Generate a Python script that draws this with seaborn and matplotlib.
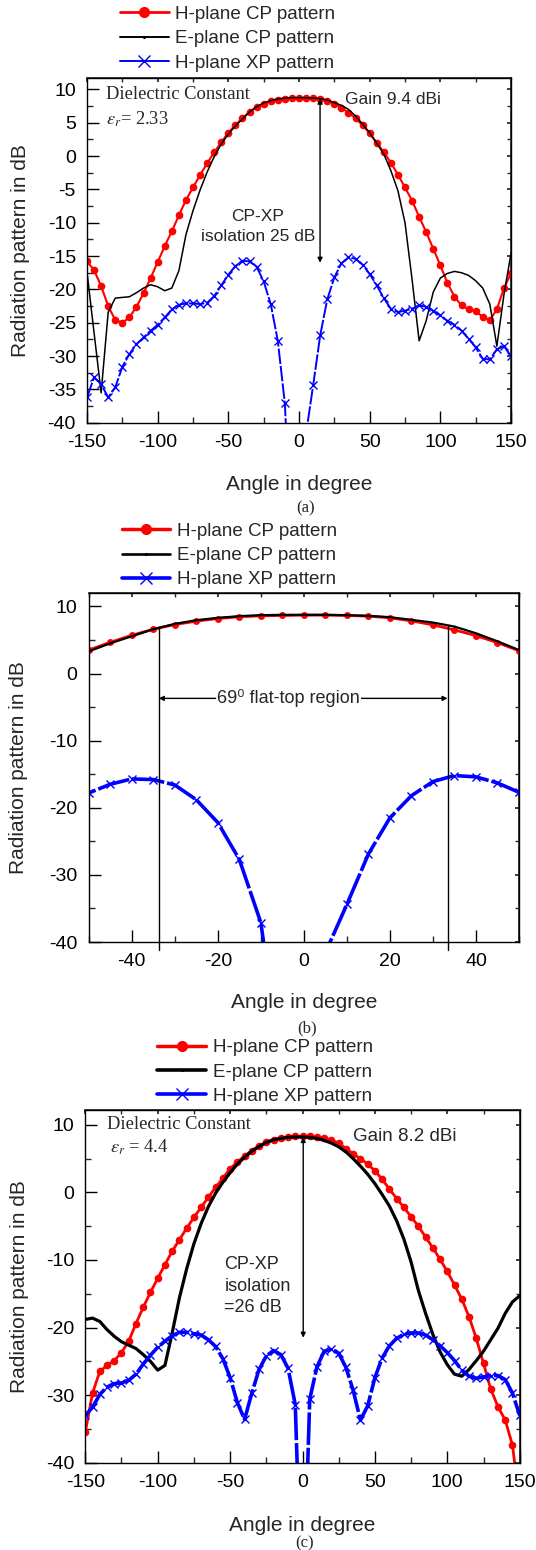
import matplotlib
matplotlib.use("Agg")
import matplotlib.pyplot as plt
import seaborn as sns
import pandas as pd
from matplotlib.ticker import MultipleLocator
from matplotlib.lines import Line2D

# ---------------- data ----------------
ANGLE = list(range(-150, 155, 5))

H_CP_A = [-15.8, -17.1, -19.5, -22.5, -24.6, -25.0, -24.2, -22.6, -20.6, -18.3,
          -15.9, -13.5, -11.3, -8.9, -6.6, -4.7, -2.85, -1.1, 0.56, 2.06,
          3.5, 4.65, 5.7, 6.6, 7.3, 7.8, 8.2, 8.45, 8.6, 8.65,
          8.7,
          8.7, 8.65, 8.55, 8.3, 7.85, 7.25, 6.5, 5.65, 4.6, 3.4,
          2.0, 0.56, -1.0, -2.8, -4.7, -6.7, -9.1, -11.4, -13.9, -16.4,
          -19.0, -21.1, -22.4, -23.0, -23.3, -24.1, -24.6, -23.0, -19.8, -17.6]

E_CP_A = [-17.4, -26.5, -35.5, -23.4, -21.3, -21.2, -21.1, -20.5, -19.8, -19.3,
          -19.6, -20.2, -19.8, -17.2, -11.8, -8.2, -5.1, -2.4, -0.1, 1.8,
          3.3, 4.5, 5.55, 6.6, 7.4, 7.95, 8.3, 8.55, 8.7, 8.75,
          8.75,
          8.75, 8.7, 8.6, 8.4, 8.0, 7.6, 7.0, 6.0, 4.8, 3.5,
          1.9, 0.3, -2.2, -5.2, -10.0, -18.5, -27.7, -24.7, -20.4, -18.3,
          -17.6, -17.3, -17.5, -17.9, -18.7, -19.8, -22.2, -28.5, -20.8, -14.6]

H_XP_A = [-36.2, -33.2, -34.2, -36.2, -34.7, -31.6, -29.7, -28.2, -27.2, -26.2,
          -25.3, -24.2, -23.0, -22.3, -22.1, -22.1, -22.2, -22.0, -21.0, -19.4,
          -17.8, -16.5, -15.7, -15.8, -16.6, -18.8, -22.2, -27.7, -37.1, -60.0,
          -60.0,
          -41.6, -34.4, -26.9, -21.5, -18.2, -16.1, -15.2, -15.4, -16.3, -17.7,
          -19.4, -21.3, -22.9, -23.4, -23.2, -22.9, -22.4, -22.6, -23.2, -23.9,
          -24.7, -25.3, -26.2, -27.4, -28.7, -30.4, -30.5, -29.0, -28.5, -30.0]

H_CP_C = [-35.5, -29.7, -26.5, -25.6, -24.9, -23.7, -22.0, -19.4, -17.0, -14.8,
          -12.7, -10.7, -8.7, -7.0, -5.3, -3.7, -2.2, -0.7, 0.74, 2.1,
          3.5, 4.5, 5.4, 6.2, 6.9, 7.4, 7.8, 8.05, 8.2, 8.3,
          8.3,
          8.3, 8.2, 8.05, 7.75, 7.3, 6.5, 5.7, 5.0, 4.2, 3.2,
          1.95, 0.5, -0.9, -2.2, -3.6, -5.0, -6.6, -8.2, -9.9, -11.7,
          -13.7, -15.8, -18.4, -21.6, -25.3, -29.1, -31.7, -33.7, -37.4, -46.0]

E_CP_C = [-18.8, -18.6, -19.1, -20.3, -21.3, -22.1, -22.6, -23.1, -24.0, -25.0,
          -26.3, -25.6, -20.8, -15.6, -11.3, -7.6, -4.6, -2.1, -0.1, 1.5,
          2.9, 4.2, 5.2, 6.1, 6.8, 7.4, 7.8, 8.0, 8.15, 8.2,
          8.2,
          8.15, 8.0, 7.7, 7.3, 6.75, 6.0, 5.0, 3.9, 2.7, 1.3,
          -0.3, -2.0, -4.2, -6.9, -10.3, -14.5, -17.9, -21.0, -23.6, -25.5,
          -26.9, -27.2, -26.2, -24.9, -23.5, -21.8, -20.1, -17.9, -16.2, -15.3]

H_XP_C = [-33.0, -31.8, -29.9, -28.8, -28.3, -28.2, -27.8, -26.9, -25.4, -24.1,
          -22.9, -22.0, -21.2, -20.7, -20.7, -20.9, -21.1, -21.8, -22.8, -24.6,
          -27.4, -31.1, -33.6, -29.7, -26.2, -24.2, -23.4, -24.0, -26.0, -31.4,
          -65.0,
          -30.6, -25.8, -23.5, -23.2, -23.8, -25.9, -29.3, -33.7, -31.6, -27.4,
          -24.5, -22.7, -21.6, -21.0, -20.8, -20.8, -21.1, -21.8, -22.7, -23.7,
          -24.9, -26.3, -27.2, -27.5, -27.3, -27.1, -27.1, -27.7, -29.7, -33.0]

LABELS = ["H-plane CP pattern", "E-plane CP pattern", "H-plane XP pattern"]
X_LABEL = "Angle in degree"
Y_LABEL = "Radiation pattern in dB"

# ---------------- style ----------------
sns.set_theme(style="ticks")
plt.rcParams["font.family"] = ["Liberation Sans", "DejaVu Sans"]
plt.rcParams["mathtext.fontset"] = "stix"
plt.rcParams["axes.unicode_minus"] = False

RED, BLUE, BLACK = "#ff0000", "#0000ff", "#000000"
SERIF = ["Liberation Serif", "DejaVu Serif"]

fig = plt.figure(figsize=(5.36, 15.5), dpi=100)
W, H = 536.0, 1550.0


def axes_px(left, top, right, bottom):
    return fig.add_axes([left / W, 1 - bottom / H, (right - left) / W, (bottom - top) / H])


def draw(ax, df, red_lw, blk_lw, blu_lw, blu_dash, ms):
    sns.lineplot(data=df, x="angle", y="h_cp", ax=ax, color=RED, lw=red_lw,
                 marker="o", markersize=ms, markeredgecolor=RED, markeredgewidth=0,
                 estimator=None, legend=False)
    sns.lineplot(data=df, x="angle", y="e_cp", ax=ax, color=BLACK, lw=blk_lw,
                 estimator=None, legend=False)
    sns.lineplot(data=df, x="angle", y="h_xp", ax=ax, color=BLUE, lw=blu_lw,
                 linestyle=blu_dash, marker="x", markersize=ms + 0.3,
                 markeredgecolor=BLUE, markeredgewidth=1.0,
                 estimator=None, legend=False)


def style_axes(ax, xlim, ylim, xmaj, xmin, ymaj, ymin):
    ax.set_xlim(*xlim)
    ax.set_ylim(*ylim)
    ax.xaxis.set_major_locator(MultipleLocator(xmaj))
    ax.xaxis.set_minor_locator(MultipleLocator(xmin))
    ax.yaxis.set_major_locator(MultipleLocator(ymaj))
    ax.yaxis.set_minor_locator(MultipleLocator(ymin))
    ax.tick_params(which="major", direction="in", length=8.5, width=1.0,
                   labelsize=14, pad=8, colors="black")
    ax.tick_params(which="minor", direction="in", length=4.5, width=1.0)
    for s in ax.spines.values():
        s.set_color("black")
        s.set_linewidth(1.0)
    ax.set_facecolor("white")
    sx = ax.secondary_xaxis("top")
    sx.xaxis.set_major_locator(MultipleLocator(xmaj))
    sx.xaxis.set_minor_locator(MultipleLocator(xmin))
    sx.tick_params(which="both", direction="in", length=3, labeltop=False)
    sy = ax.secondary_yaxis("right")
    sy.yaxis.set_major_locator(MultipleLocator(ymaj))
    sy.yaxis.set_minor_locator(MultipleLocator(ymin))
    sy.tick_params(which="both", direction="in", length=3, labelright=False)
    ax.set_xlabel(X_LABEL, fontsize=15)
    ax.set_ylabel(Y_LABEL, fontsize=15)


def legend(x_px, ymid_px, red_lw, blk_lw, blu_lw):
    handles = [
        Line2D([], [], color=RED, lw=red_lw + 0.5, marker="o", markersize=8,
               markeredgewidth=0),
        Line2D([], [], color=BLACK, lw=blk_lw + 0.3, marker=".", markersize=2.5),
        Line2D([], [], color=BLUE, lw=blu_lw, marker="x", markersize=8,
               markeredgewidth=1.0),
    ]
    fig.legend(handles, LABELS, loc="center left",
               bbox_to_anchor=(x_px / W, 1 - ymid_px / H), frameon=False,
               fontsize=13.5, handlelength=2.6, handletextpad=0.35,
               labelspacing=0.39, borderpad=0, borderaxespad=0)


df_a = pd.DataFrame({"angle": ANGLE, "h_cp": H_CP_A, "e_cp": E_CP_A, "h_xp": H_XP_A})
df_c = pd.DataFrame({"angle": ANGLE, "h_cp": H_CP_C, "e_cp": E_CP_C, "h_xp": H_XP_C})

# ---------------- panel (a) ----------------
axA = axes_px(87, 78, 511, 422.8)
draw(axA, df_a, 1.5, 1.1, 1.4, (0, (8, 1.0)), 5.5)
style_axes(axA, (-150, 150), (-40, 11.7), 50, 25, 5, 2.5)
axA.xaxis.set_label_coords(0.5, -0.15)
axA.yaxis.set_label_coords(-0.135, 0.5)
legend(120, 38.5, 1.5, 1.1, 1.4)
axA.text(-136.6, 9.2, "Dielectric Constant", family=SERIF, fontsize=13.3, va="center")
axA.text(-136.6, 5.5, r"$\varepsilon_r$= 2.33", family=SERIF, fontsize=13.3, va="center")
axA.text(32.5, 8.55, "Gain 9.4 dBi", fontsize=12.5, va="center")
axA.annotate("", xy=(14.9, -16.0), xytext=(14.9, 8.6),
             arrowprops=dict(arrowstyle="<|-|>", color="black", lw=1.0,
                             shrinkA=0, shrinkB=0, mutation_scale=7))
axA.text(-29, -9.1, "CP-XP", fontsize=12.5, ha="center", va="center")
axA.text(-29, -12.1, "isolation 25 dB", fontsize=12.5, ha="center", va="center")
fig.text(306 / W, 1 - 508 / H, "(a)", family=SERIF, fontsize=12, ha="center", va="center")

# ---------------- panel (b) ----------------
axB = axes_px(88.7, 593, 519, 942)
draw(axB, df_a, 2.0, 1.6, 2.6, (0, (9, 0.8)), 5.0)
style_axes(axB, (-50, 50), (-40, 12), 20, 10, 10, 5)
axB.xaxis.set_label_coords(0.5, -0.145)
axB.yaxis.set_label_coords(-0.14, 0.5)
legend(121.7, 555.5, 2.0, 1.6, 2.6)
for xv, ytop in ((-33.7, 6.9), (33.4, 7.2)):
    axB.plot([xv, xv], [ytop, -41.2], color="black", lw=1.0, clip_on=False)
axB.annotate("", xy=(-33.7, -3.7), xytext=(33.4, -3.7),
             arrowprops=dict(arrowstyle="<|-|>", color="black", lw=1.0,
                             shrinkA=0, shrinkB=0, mutation_scale=7))
axB.text(-3.6, -3.7, "69\u2070 flat-top region", fontsize=13, ha="center", va="center",
         bbox=dict(facecolor="white", edgecolor="none", pad=1.0))
fig.text(307 / W, 1 - 1028 / H, "(b)", family=SERIF, fontsize=12, ha="center", va="center")

# ---------------- panel (c) ----------------
axC = axes_px(85.3, 1110, 519.7, 1462.7)
draw(axC, df_c, 2.0, 2.3, 2.6, (0, (9, 0.8)), 5.5)
style_axes(axC, (-150, 150), (-40, 12.2), 50, 25, 10, 5)
axC.xaxis.set_label_coords(0.5, -0.152)
axC.yaxis.set_label_coords(-0.13, 0.5)
legend(157.3, 1072, 2.0, 2.3, 2.6)
axC.text(-134.8, 10.0, "Dielectric Constant", family=SERIF, fontsize=13.3, va="center")
axC.text(-133, 6.7, r"$\varepsilon_r$ = 4.4", family=SERIF, fontsize=13.3, va="center")
axC.text(35, 8.3, "Gain 8.2 dBi", fontsize=13.5, va="center")
axC.annotate("", xy=(0.5, -21.5), xytext=(0.5, 8.2),
             arrowprops=dict(arrowstyle="<|-|>", color="black", lw=1.0,
                             shrinkA=0, shrinkB=0, mutation_scale=7))
axC.text(-54, -10.7, "CP-XP", fontsize=13, ha="left", va="center")
axC.text(-54, -13.9, "isolation", fontsize=13, ha="left", va="center")
axC.text(-54, -17.1, "=26 dB", fontsize=13, ha="left", va="center")
fig.text(305 / W, 1 - 1543 / H, "(c)", family=SERIF, fontsize=12, ha="center", va="center")

fig.savefig("out.png", dpi=100, facecolor="white")
